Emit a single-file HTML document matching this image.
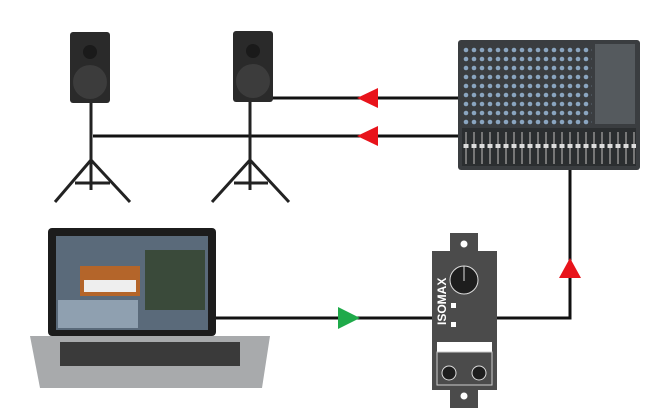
<!DOCTYPE html><html><head><style>body{margin:0;background:#fff}svg{display:block}</style></head><body>
<svg width="660" height="420" viewBox="0 0 660 420" xmlns="http://www.w3.org/2000/svg">
<defs>
<pattern id="kn" x="462" y="46" width="8" height="9" patternUnits="userSpaceOnUse"><circle cx="4" cy="4" r="2.3" fill="#8aa5c0"/></pattern>
<pattern id="fd" x="462" y="130" width="8" height="36" patternUnits="userSpaceOnUse"><rect x="3" y="2" width="2" height="32" fill="#777"/><rect x="1.5" y="14" width="5" height="4" fill="#ddd"/></pattern>
</defs>
<g stroke="#111" stroke-width="3" fill="none">
<line x1="270" y1="98" x2="462" y2="98"/>
<line x1="93" y1="136" x2="462" y2="136"/>
<polyline points="570,168 570,318 496,318"/>
<line x1="214" y1="318" x2="433" y2="318"/>
</g>
<polygon points="357,98 378,88 378,108" fill="#e8131b"/>
<polygon points="357,136 378,126 378,146" fill="#e8131b"/>
<polygon points="570,258 559,278 581,278" fill="#e8131b"/>
<polygon points="360,318 338,307 338,329" fill="#1faa4a"/>
<g>
<g stroke="#222" stroke-width="3" fill="none">
<line x1="91" y1="103" x2="91" y2="165"/><line x1="91" y1="160" x2="55" y2="202"/><line x1="91" y1="160" x2="130" y2="202"/><line x1="91" y1="160" x2="91" y2="190"/><line x1="75" y1="183" x2="110" y2="183"/>
<line x1="250" y1="102" x2="250" y2="165"/><line x1="250" y1="160" x2="212" y2="202"/><line x1="250" y1="160" x2="289" y2="202"/><line x1="250" y1="160" x2="250" y2="190"/><line x1="234" y1="183" x2="268" y2="183"/>
</g>
<rect x="70" y="32" width="40" height="71" rx="3" fill="#2a2a2a"/>
<circle cx="90" cy="82" r="17" fill="#3c3c3c"/><circle cx="90" cy="52" r="7" fill="#1a1a1a"/>
<rect x="233" y="31" width="40" height="71" rx="3" fill="#2a2a2a"/>
<circle cx="253" cy="81" r="17" fill="#3c3c3c"/><circle cx="253" cy="51" r="7" fill="#1a1a1a"/>
</g>
<rect x="458" y="40" width="182" height="130" rx="3" fill="#3a3d40"/>
<rect x="462" y="44" width="130" height="84" fill="url(#kn)"/>
<rect x="462" y="128" width="174" height="38" fill="#2b2e30"/>
<rect x="462" y="128" width="174" height="38" fill="url(#fd)"/>
<rect x="595" y="44" width="40" height="80" fill="#555a5e"/>
<path d="M30 336 H270 L262 388 H40 Z" fill="#a8aaac"/>
<rect x="60" y="342" width="180" height="24" fill="#3a3a3a"/>
<rect x="48" y="228" width="168" height="108" rx="4" fill="#1c1c1c"/>
<rect x="56" y="236" width="152" height="94" fill="#5a6a7a"/>
<rect x="80" y="266" width="60" height="30" fill="#b4652a"/><rect x="84" y="280" width="52" height="12" fill="#eee"/>
<rect x="145" y="250" width="60" height="60" fill="#3a4a3a"/>
<rect x="58" y="300" width="80" height="28" fill="#8fa0b0"/>
<rect x="450" y="233" width="28" height="20" fill="#4b4b4b"/><circle cx="464" cy="244" r="3.5" fill="#fff"/>
<rect x="450" y="388" width="28" height="20" fill="#4b4b4b"/><circle cx="464" cy="396" r="3.5" fill="#fff"/>
<rect x="432" y="251" width="65" height="139" fill="#4b4b4b"/>
<circle cx="464" cy="280" r="14" fill="#1e1e1e" stroke="#ddd" stroke-width="1"/><line x1="464" y1="266" x2="464" y2="281" stroke="#ddd"/>
<rect x="451" y="303" width="5" height="5" fill="#fff"/><rect x="451" y="322" width="5" height="5" fill="#fff"/>
<text transform="translate(446,325) rotate(-90)" font-family="Liberation Sans,sans-serif" font-weight="bold" font-size="12" fill="#fff">ISOMAX</text>
<rect x="437" y="342" width="55" height="10" fill="#fff"/>
<rect x="437" y="352" width="55" height="33" fill="#4b4b4b" stroke="#ccc" stroke-width="1"/>
<circle cx="449" cy="373" r="7" fill="#1e1e1e" stroke="#ddd"/><circle cx="479" cy="373" r="7" fill="#1e1e1e" stroke="#ddd"/>
</svg>
</body></html>
